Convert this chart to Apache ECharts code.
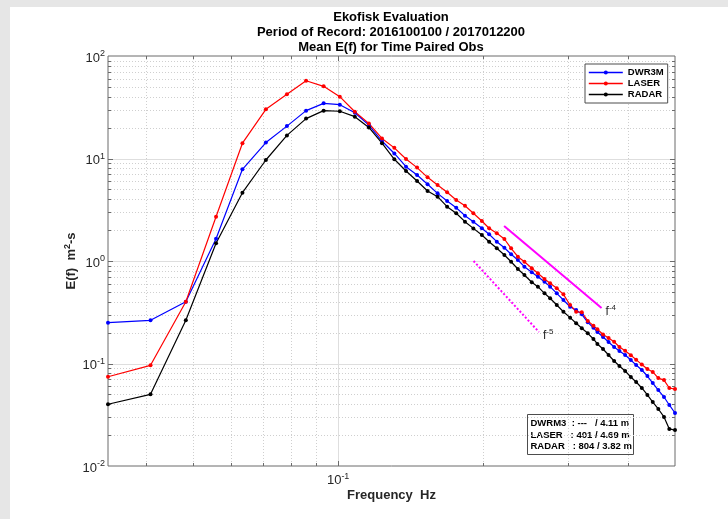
<!DOCTYPE html>
<html><head><meta charset="utf-8">
<script src="https://cdn.jsdelivr.net/npm/echarts@6/dist/echarts.min.js"></script>
<style>
html,body{margin:0;padding:0;background:#e6e6e6;width:728px;height:519px;overflow:hidden}
#paper{position:absolute;left:10px;top:7px;right:0;bottom:0;background:#fff}
#c{position:absolute;left:0;top:0;width:728px;height:519px}
</style></head><body><div id="paper"></div><div id="c"></div>
<script>
// ---- data ----
const freq = [0.0333,0.0408,0.0483,0.0558,0.0633,0.0708,0.0783,0.0858,0.0933,0.1008,0.1083,0.1158,0.1233,0.1308,0.1383,0.1458,0.1533,0.1608,0.1683,0.1758,0.1833,0.1908,
  0.1987,0.2057,0.2134,0.2213,0.2285,0.236,0.2435,0.2522,0.2597,0.268,0.2753,0.2842,0.2934,0.3029,0.3118,0.3203,0.3296,0.3386,
  0.3451,0.3545,0.364,0.3738,0.3834,0.394,0.4049,0.4153,0.4267,0.4382,0.4496,0.4617,0.4744,0.4866,0.5];
const dwr3m = [0.25,0.264,0.40,1.65,7.84,14.3,20.7,29.3,34.5,33.5,27.9,21.2,14.8,11.2,8.32,6.90,5.6,4.57,3.85,3.31,2.77,2.42,
  2.085,1.822,1.543,1.348,1.163,1.023,0.880,0.776,0.703,0.628,0.562,0.484,0.416,0.358,0.333,0.302,0.252,0.2235,
  0.203,0.1813,0.162,0.1449,0.1324,0.121,0.108,0.0967,0.0864,0.0755,0.0645,0.0551,0.0471,0.0394,0.0329];
const laser = [0.0743,0.096,0.401,2.70,14.1,30.2,42.3,57.4,50.6,40.1,28.6,22.0,15.7,12.7,9.89,8.15,6.55,5.51,4.68,3.94,3.46,2.92,
  2.455,2.085,1.863,1.639,1.330,1.101,0.984,0.849,0.759,0.667,0.606,0.542,0.473,0.372,0.320,0.316,0.260,0.234,
  0.216,0.192,0.177,0.163,0.145,0.133,0.1204,0.109,0.0976,0.0885,0.0827,0.0721,0.0689,0.0577,0.0563];
const radar = [0.040,0.050,0.264,1.49,4.64,9.67,16.8,24.5,29.3,28.9,25.6,20.1,14.1,9.83,7.55,6.03,4.82,4.24,3.39,2.92,2.42,2.08,
  1.794,1.543,1.330,1.144,0.984,0.835,0.730,0.620,0.562,0.484,0.433,0.372,0.320,0.280,0.2467,0.2205,0.197,0.1734,
  0.155,0.1385,0.121,0.1058,0.0945,0.0845,0.0738,0.066,0.0577,0.0493,0.0421,0.036,0.0301,0.023,0.0224];
const f4Freq = [0.221,0.352], f4Val = [2.19,0.348];
const f5Freq = [0.191,0.261], f5Val = [1.0,0.203];
const yMajor = [0.01,0.1,1,10,100];
const yMinor = [0.02,0.03,0.04,0.05,0.06,0.07,0.08,0.09,0.2,0.3,0.4,0.5,0.6,0.7,0.8,0.9,2,3,4,5,6,7,8,9,20,30,40,50,60,70,80,90];
const xMajor = [0.1];
const xMinor = [0.04,0.05,0.06,0.07,0.08,0.09,0.2,0.3,0.4];
const titleLines = ['Ekofisk Evaluation','Period of Record: 2016100100 / 2017012200','Mean E(f) for Time Paired Obs'];
const statLines = ['DWRM3  : ---   / 4.11 m','LASER   : 401 / 4.69 m','RADAR   : 804 / 3.82 m'];
const seriesNames = ['DWR3M','LASER','RADAR'];

const FONT = "'Liberation Sans', Arial, sans-serif";
const AX = '#6b6b6b';
const chart = echarts.init(document.getElementById('c'), null, {renderer:'canvas'});

function gridSeries(values, dir, major){
  return {
    type:'custom', silent:true, z:1, clip:false, animation:false,
    data: values.map(v => dir==='h' ? [freq[0], v] : [v, yMajor[0]]),
    renderItem(params, api){
      const cs = params.coordSys;
      const p = api.coord([api.value(0), api.value(1)]);
      const ls = major ? {stroke:'#dedede', lineWidth:1} : {stroke:'#cfcfcf', lineWidth:1, lineDash:[1,2]};
      const ts = {stroke:AX, lineWidth:1};
      const tl = major ? 5 : 3;
      const ch = [];
      if(dir==='h'){
        const y = Math.round(p[1])+0.5;
        ch.push({type:'line', shape:{x1:cs.x,y1:y,x2:cs.x+cs.width,y2:y}, style:ls});
        ch.push({type:'line', shape:{x1:cs.x,y1:y,x2:cs.x+tl,y2:y}, style:ts});
        ch.push({type:'line', shape:{x1:cs.x+cs.width-tl,y1:y,x2:cs.x+cs.width,y2:y}, style:ts});
      } else {
        const x = Math.round(p[0])+0.5;
        ch.push({type:'line', shape:{x1:x,y1:cs.y,x2:x,y2:cs.y+cs.height}, style:ls});
        ch.push({type:'line', shape:{x1:x,y1:cs.y+cs.height,x2:x,y2:cs.y+cs.height-tl}, style:ts});
        ch.push({type:'line', shape:{x1:x,y1:cs.y,x2:x,y2:cs.y+tl}, style:ts});
      }
      return {type:'group', children:ch};
    }
  };
}
function dataSeries(name, vals, color){
  return {
    name, type:'line', data: freq.map((f,i)=>[f, vals[i]]), z:3,
    symbol:'circle', symbolSize:4, showAllSymbol:true,
    lineStyle:{color, width:1.2}, itemStyle:{color}, animation:false
  };
}
function powerLine(fx, fy, dashed, label){
  return {
    type:'line', z:4, symbol:'none', animation:false, silent:true,
    lineStyle:{color:'#ff00ff', width:2, type: dashed?[2,2]:'solid'},
    data: fx.map((f,i)=>[f, fy[i]]),
    endLabel:{show:true, distance:4, offset:[0,2],
      formatter:'{f|f}{s|'+label+'}',
      rich:{f:{fontFamily:FONT,fontSize:12,color:'#262626',padding:[4,0,0,0],lineHeight:12},
            s:{fontFamily:FONT,fontSize:8,color:'#262626',verticalAlign:'top',lineHeight:8}}}
  };
}
const supRich = {
  b:{fontFamily:FONT,fontSize:13,color:'#262626',lineHeight:13,padding:[4,0,0,0]},
  s:{fontFamily:FONT,fontSize:9,color:'#262626',lineHeight:9,verticalAlign:'top'}
};
function isPow10(v){ const l=Math.log10(v); return Math.abs(l-Math.round(l))<1e-6; }

const option = {
  animation:false,
  backgroundColor:'transparent',
  grid:{left:108, top:56, right:53, bottom:53, show:true, borderColor:AX, borderWidth:1, backgroundColor:'transparent'},
  xAxis:{type:'log', min:freq[0], max:freq[freq.length-1], logBase:10,
    axisLine:{show:false}, axisTick:{show:false}, splitLine:{show:false}, minorTick:{show:false},
    axisLabel:{margin:6, showMinLabel:false, showMaxLabel:false,
      formatter:v=> isPow10(v) ? '{b|10}{s|'+Math.round(Math.log10(v))+'}' : '', rich:supRich},
    name:'{n|Frequency  Hz}', nameLocation:'middle', nameGap:23, nameMoveOverlap:false,
    nameTextStyle:{rich:{n:{fontFamily:FONT,fontSize:13,fontWeight:'bold',color:'#262626'}}}
  },
  yAxis:{type:'log', min:yMajor[0], max:yMajor[yMajor.length-1], logBase:10,
    axisLine:{show:false}, axisTick:{show:false}, splitLine:{show:false},
    axisLabel:{margin:3, formatter:v=>'{b|10}{s|'+Math.round(Math.log10(v))+'}', rich:supRich},
    name:'{n|E(f)  m}{s|2}{n|-s}', nameLocation:'middle', nameGap:32, nameRotate:90, nameMoveOverlap:false,
    nameTextStyle:{rich:{n:{fontFamily:FONT,fontSize:13,fontWeight:'bold',color:'#262626',lineHeight:13,padding:[4,0,0,0]},
                         s:{fontFamily:FONT,fontSize:9,fontWeight:'bold',color:'#262626',lineHeight:9,verticalAlign:'top'}}}
  },
  legend:{data:seriesNames, orient:'vertical', left:585, top:64, itemGap:0, itemWidth:34, itemHeight:5,
    padding:[3,4,3,3], backgroundColor:'#fff', borderColor:'#4d4d4d', borderWidth:1, borderRadius:0,
    lineStyle:{width:1.6},
    textStyle:{fontFamily:FONT, fontSize:9.5, fontWeight:'bold', color:'#000', lineHeight:11}},
  series:[
    gridSeries(yMinor,'h',false), gridSeries(yMajor.slice(1,-1),'h',true),
    gridSeries(xMinor,'v',false), gridSeries(xMajor,'v',true),
    dataSeries(seriesNames[0], dwr3m, '#0000ff'),
    dataSeries(seriesNames[1], laser, '#ff0000'),
    dataSeries(seriesNames[2], radar, '#000000'),
    powerLine(f4Freq, f4Val, false, '-4'),
    powerLine(f5Freq, f5Val, true, '-5')
  ],
  graphic:[
    {type:'text', z:10, silent:true, x:391, y:10,
     style:{text:titleLines.join('\n'), x:0, y:0, align:'center', verticalAlign:'top',
       font:"bold 13px "+FONT, lineHeight:15, fill:'#000'}},
    {type:'group', x:527, y:414, z:10, silent:true, children:[
      {type:'rect', shape:{x:0.5,y:0.5,width:106,height:40}, style:{fill:'#fff', stroke:'#4d4d4d', lineWidth:1}},
      {type:'text', style:{x:3.5, y:4, text:statLines.join('\n'), font:"bold 9.5px "+FONT, lineHeight:11.3, fill:'#000'}}
    ]}
  ]
};
chart.setOption(option);
</script></body></html>
